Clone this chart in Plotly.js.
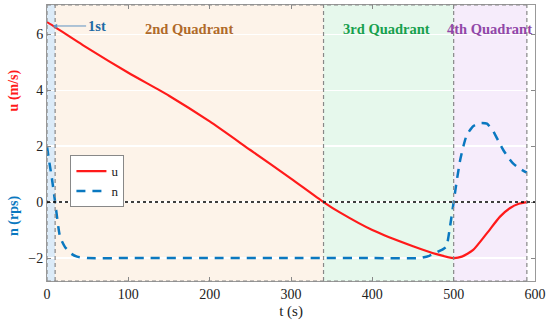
<!DOCTYPE html>
<html>
<head>
<meta charset="utf-8">
<script src="https://cdn.plot.ly/plotly-3.0.1.min.js"></script>
<style>html,body{margin:0;padding:0;background:#fff;}#chart{width:550px;height:324px;}</style>
</head>
<body>
<div id="chart"></div>
<script>
// ---- data ----
var tU = [0, 10, 50, 100, 150, 200, 250, 300, 340, 360, 400, 450, 480, 500, 510, 524, 541, 557, 569, 580, 590];
var uVals = [6.43, 6.25, 5.5, 4.62, 3.8, 2.88, 1.86, 0.84, 0, -0.37, -1.0, -1.58, -1.87, -2.0, -1.95, -1.71, -1.11, -0.52, -0.22, -0.06, 0];
var tN = [0, 3, 6, 10, 16, 22, 30, 37, 50, 100, 200, 300, 400, 459, 470, 479, 487, 491, 495.5, 500, 504, 508, 512, 516, 524, 533, 541, 549, 555, 561, 567, 573, 580, 588, 590];
var nVals = [1.98, 1.4, 0.85, 0, -1.24, -1.6, -1.85, -1.95, -2.0, -2.0, -2.0, -2.0, -2.0, -2.0, -1.92, -1.8, -1.68, -1.6, -0.88, 0, 0.8, 1.5, 2.0, 2.39, 2.71, 2.82, 2.8, 2.51, 2.18, 1.86, 1.6, 1.38, 1.22, 1.08, 1.05];
var quadrantBounds = [0, 10, 340, 500, 590];
var quadrantFills = ['#dcebf8', '#fdf3e9', '#e6f8ec', '#f6ecfb'];
var quadrantLabels = ['1st', '2nd Quadrant', '3rd Quadrant', '4th Quadrant'];
var quadrantLabelColors = ['#1f6aa5', '#b06a2a', '#18a04e', '#9147a8'];
var quadrantLabelX = [61, 175, 418, 544];
var labelY = 6.18;
var xTicks = [0, 100, 200, 300, 400, 500, 600];
var yTicks = [-2, 0, 2, 4, 6];

var font = 'Liberation Serif, Times New Roman, serif';

var traces = [
  {x: tU, y: uVals, name: 'u', mode: 'lines', type: 'scatter',
   line: {color: '#ff1a1a', width: 2.2, shape: 'spline', smoothing: 0.6}},
  {x: tN, y: nVals, name: 'n', mode: 'lines', type: 'scatter',
   line: {color: '#0a78c0', width: 2.5, dash: '9px,7px', shape: 'spline', smoothing: 0.5}}
];

var shapes = [];
for (var i = 0; i < quadrantFills.length; i++) {
  shapes.push({type: 'rect', xref: 'x', yref: 'paper', x0: quadrantBounds[i], x1: quadrantBounds[i+1],
    y0: 0, y1: 1, fillcolor: quadrantFills[i], line: {width: 0}, layer: 'below'});
}
for (var j = 0; j < quadrantBounds.length; j++) {
  shapes.push({type: 'line', xref: 'x', yref: 'paper', x0: quadrantBounds[j], x1: quadrantBounds[j],
    y0: 0, y1: 1, line: {color: '#888', width: 1.2, dash: '4px,3px'}, layer: 'above'});
}
shapes.push({type: 'line', xref: 'x', yref: 'paper', x0: quadrantBounds[0], x1: quadrantBounds[quadrantBounds.length-1],
  y0: 1, y1: 1, line: {color: '#888', width: 1.2, dash: '4px,3px'}, layer: 'above'});
shapes.push({type: 'line', xref: 'x', yref: 'paper', x0: quadrantBounds[0], x1: quadrantBounds[quadrantBounds.length-1],
  y0: 0, y1: 0, line: {color: '#888', width: 1.2, dash: '4px,3px'}, layer: 'above'});
shapes.push({type: 'line', xref: 'paper', yref: 'y', x0: 0, x1: 1, y0: 0, y1: 0,
  line: {color: '#000', width: 1.6, dash: 'dot'}, layer: 'above'});

var annotations = [];
for (var k = 0; k < quadrantLabels.length; k++) {
  var a = {x: quadrantLabelX[k], y: labelY, xref: 'x', yref: 'y', text: '<b>' + quadrantLabels[k] + '</b>',
    showarrow: false, font: {family: font, size: 14.5, color: quadrantLabelColors[k]}, xanchor: 'center'};
  if (k === 0) {
    a.showarrow = true; a.x = 7; a.y = 6.29; a.ax = quadrantLabelX[0]; a.ay = 6.29;
    a.axref = 'x'; a.ayref = 'y'; a.arrowhead = 2; a.arrowsize = 0.9; a.arrowwidth = 1; a.arrowcolor = '#5f93c2';
  }
  annotations.push(a);
}
annotations.push({xref: 'paper', yref: 'paper', x: -0.068, y: 0.69, text: '<b>u (m/s)</b>', textangle: -90,
  showarrow: false, font: {family: font, size: 14, color: '#ff1a1a'}, xanchor: 'center', yanchor: 'middle'});
annotations.push({xref: 'paper', yref: 'paper', x: -0.068, y: 0.235, text: '<b>n (rps)</b>', textangle: -90,
  showarrow: false, font: {family: font, size: 14, color: '#0a78c0'}, xanchor: 'center', yanchor: 'middle'});

var layout = {
  width: 550, height: 324,
  margin: {l: 47, r: 15, t: 5, b: 43},
  paper_bgcolor: '#fff', plot_bgcolor: '#fff',
  font: {family: font, size: 14, color: '#222'},
  showlegend: true,
  legend: {x: 0.048, y: 0.456, xanchor: 'left', yanchor: 'top', bgcolor: '#fff', bordercolor: '#888', borderwidth: 1,
    font: {family: font, size: 13, color: '#222'}, tracegroupgap: 0, itemwidth: 30},
  xaxis: {range: [0, 600], tickvals: xTicks, ticks: 'inside', ticklen: 4, tickcolor: '#888',
    showline: true, linecolor: '#999', mirror: 'ticks', showgrid: false, zeroline: false,
    title: {text: 't (s)', font: {family: font, size: 15, color: '#222'}, standoff: 4}},
  yaxis: {range: [-2.82, 7.04], tickvals: yTicks, ticks: 'inside', ticklen: 4, tickcolor: '#888',
    showline: true, linecolor: '#999', mirror: 'ticks', showgrid: true, gridcolor: '#fff', gridwidth: 1.2, zeroline: false},
  shapes: shapes,
  annotations: annotations
};

Plotly.newPlot('chart', traces, layout, {displayModeBar: false, staticPlot: true});
</script>
</body>
</html>
